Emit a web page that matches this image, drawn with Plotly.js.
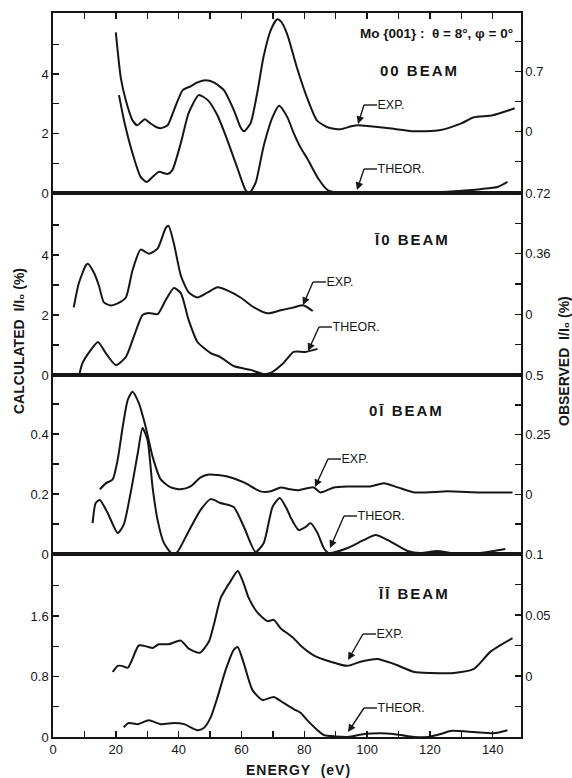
<!DOCTYPE html>
<html>
<head>
<meta charset="utf-8">
<script src="https://cdn.plot.ly/plotly-3.0.1.min.js"></script>
<style>
html,body{margin:0;padding:0;background:#fff;}
#chart{width:572px;height:778px;}
</style>
</head>
<body>
<div id="chart"></div>
<script>
// ---------- DATA ----------
// Energy (eV); EXP in observed I/I0 (%), THEOR in calculated I/I0 (%)
// 00 beam
const exp00E = [20, 21.6, 23.2, 25.3, 26.8, 28, 29.2, 31, 33, 34.3, 36.5, 38.5, 41.3, 43.8, 46, 48.6, 51.2, 54.4, 57.6, 59.7, 60.8, 62.9, 65, 67, 69.3, 71.3, 72.5, 74.5, 77.6, 80.8, 84, 87.4, 91.5, 95, 97.3, 101, 107, 115, 123, 130, 134, 140, 147];
const exp00I = [1.155, 0.62, 0.36, 0.13, 0.07, 0.105, 0.14, 0.093, 0.047, 0.035, 0.07, 0.245, 0.48, 0.525, 0.57, 0.595, 0.57, 0.48, 0.245, 0.047, 0.0, 0.093, 0.443, 0.863, 1.178, 1.305, 1.285, 1.14, 0.75, 0.40, 0.128, 0.047, 0.023, 0.058, 0.07, 0.058, 0.035, 0, 0.012, 0.093, 0.163, 0.187, 0.268];
const th00E = [21, 22.8, 25.3, 27.9, 29.8, 31.7, 33.7, 36.5, 38, 40.7, 43.2, 46.4, 49.2, 52.3, 55.5, 58.7, 61.3, 62.5, 64.5, 67, 69.9, 72, 74.6, 76.6, 78.7, 81, 84.6, 87.4, 89.4, 95, 105, 115, 125.6, 131, 136, 141.5, 144.7];
const th00I = [3.29, 2.35, 1.34, 0.54, 0.37, 0.54, 0.71, 0.64, 0.77, 1.68, 2.69, 3.29, 3.13, 2.62, 1.78, 0.84, 0.1, 0, 0.34, 1.55, 2.55, 2.93, 2.55, 2.02, 1.55, 1.15, 0.46, 0.1, 0.03, 0.02, 0.03, 0.02, 0.04, 0.08, 0.13, 0.2, 0.37];
// 1̄0 beam
const exp10E = [6.6, 8.2, 10.4, 11.1, 13, 14.6, 16.2, 18.4, 20.6, 23.2, 25.3, 27.9, 30.5, 33.3, 35.9, 36.8, 38.5, 40.7, 43.2, 46, 49.2, 52.4, 55.5, 59.7, 64, 68.3, 72.5, 76.6, 79.8, 82.7];
const exp10I = [0.041, 0.183, 0.289, 0.30, 0.248, 0.171, 0.071, 0.053, 0.065, 0.1, 0.26, 0.384, 0.36, 0.39, 0.513, 0.525, 0.419, 0.23, 0.13, 0.1, 0.13, 0.16, 0.142, 0.1, 0.041, 0.006, 0.024, 0.041, 0.053, 0.02];
const th10E = [8.5, 9.4, 12, 14.3, 16.8, 20, 23.2, 25.7, 28.5, 30.5, 33.3, 35.9, 38.5, 40.7, 43.2, 46, 50.2, 53.3, 57.5, 62.9, 67, 69.3, 73.4, 76.6, 80.4, 84.2];
const th10I = [0.07, 0.4, 0.83, 1.1, 0.73, 0.33, 0.6, 1.27, 2.0, 2.07, 2.03, 2.5, 2.9, 2.73, 1.83, 1.1, 0.73, 0.6, 0.3, 0.17, 0.03, 0.07, 0.4, 0.77, 0.77, 0.87];
// 01̄ beam
const exp01E = [14.9, 16.8, 19, 20.6, 22.2, 23.8, 25.3, 27.3, 29.5, 31.7, 34.3, 37.5, 40.7, 43.8, 47, 49.6, 55.5, 60.8, 66.1, 69.3, 72.5, 75.6, 77.9, 83, 85.2, 89.4, 93.8, 101, 105.3, 109.8, 115, 125.6, 136, 146.3];
const exp01I = [0.021, 0.046, 0.0625, 0.146, 0.283, 0.396, 0.43, 0.383, 0.283, 0.158, 0.0625, 0.029, 0.021, 0.033, 0.071, 0.083, 0.075, 0.05, 0.0125, 0.0125, 0.029, 0.021, 0.017, 0.029, 0.008, 0.029, 0.033, 0.033, 0.046, 0.029, 0.008, 0.0125, 0.008, 0.008];
const th01E = [12.6, 13.6, 14.9, 17.4, 20.6, 22.5, 24.7, 27, 28.5, 30.1, 31.7, 33.3, 35.3, 38, 39.6, 42.9, 47, 50.2, 53.3, 57.5, 60.8, 64.5, 67.1, 69.9, 72.2, 74.6, 75.6, 78.2, 80.4, 82, 84.2, 86.2, 87.8, 93.8, 99, 102.7, 106.5, 112.9, 117, 122.4, 127.6, 136, 140.3, 144];
const th01I = [0.103, 0.17, 0.18, 0.137, 0.07, 0.097, 0.203, 0.337, 0.42, 0.38, 0.223, 0.113, 0.037, 0, 0.007, 0.07, 0.147, 0.183, 0.17, 0.157, 0.09, 0.007, 0.037, 0.157, 0.187, 0.147, 0.123, 0.08, 0.09, 0.103, 0.07, 0.02, 0.003, 0.02, 0.047, 0.063, 0.047, 0.01, 0.003, 0.01, 0.003, 0.003, 0.01, 0.017];
// 1̄1̄ beam
const exp11E = [19, 20.6, 21.9, 23.8, 25.3, 27.3, 30.1, 31.7, 33.7, 36.8, 40.7, 43.2, 46.7, 49.6, 51.2, 53.4, 56.6, 58.8, 60.4, 62.3, 65.1, 68.3, 70.3, 72.5, 74.6, 76.6, 78.8, 83, 88.4, 93.8, 97.9, 103.3, 108.4, 115, 120.3, 127.7, 134, 139.3, 146.3];
const exp11I = [0.0033, 0.0083, 0.0083, 0.0067, 0.014, 0.025, 0.024, 0.023, 0.026, 0.026, 0.029, 0.0225, 0.019, 0.028, 0.042, 0.064, 0.078, 0.086, 0.078, 0.064, 0.052, 0.045, 0.046, 0.039, 0.035, 0.031, 0.025, 0.017, 0.0117, 0.0083, 0.0117, 0.014, 0.01, 0.0033, 0.0025, 0.0025, 0.0058, 0.02, 0.031];
const th11E = [22.5, 24.1, 27, 30.5, 34.3, 38.5, 41.7, 46, 48, 50.2, 52.4, 55, 57.5, 58.8, 60.7, 63.5, 66.7, 70.3, 73.4, 76.6, 78.8, 81, 84.2, 86.2, 93.8, 99, 104.4, 108.4, 115, 119.3, 123.4, 126.6, 134, 140.3, 144.7];
const th11I = [0.13, 0.185, 0.17, 0.22, 0.17, 0.185, 0.17, 0.09, 0.12, 0.26, 0.53, 0.89, 1.15, 1.19, 0.98, 0.62, 0.49, 0.53, 0.45, 0.37, 0.32, 0.22, 0.09, 0.026, 0, 0.04, 0.05, 0.04, 0, 0, 0.04, 0.08, 0.066, 0.05, 0.09];

// Tick values (labelled) and minor tick values
const energyTicks = [0, 20, 40, 60, 80, 100, 120, 140];
const energyMinor = [10, 30, 50, 70, 90, 110, 130];
const calc00Ticks = [0, 2, 4];        const calc00Minor = [1, 3, 5];
const obs00Ticks = [0, 0.7];          const obs00Minor = [-0.35, 0.35, 1.05];
const calc10Ticks = [0, 2, 4];        const calc10Minor = [1, 3, 5];
const obs10Ticks = [0, 0.36, 0.72];   const obs10Minor = [-0.18, 0.18, 0.54];
const calc01Ticks = [0, 0.2, 0.4];    const calc01Minor = [0.1, 0.3, 0.5];
const obs01Ticks = [0, 0.25, 0.5];    const obs01Minor = [-0.125, 0.125, 0.375];
const calc11Ticks = [0, 0.8, 1.6];    const calc11Minor = [0.4, 1.2, 2.0];
const obs11Ticks = [0, 0.05, 0.1];    const obs11Minor = [-0.025, 0.025, 0.075];

const beamTitles = ['00 BEAM', '\u012A0 BEAM', '0\u012A BEAM', '\u012A\u012A BEAM'];

// ---------- STYLE ----------
const INK = '#161616';
const FONT = 'Liberation Sans, Arial, sans-serif';
const W = 572, H = 778, ML = 53, MR = 51, MT = 13, MB = 41;
const PW = W - ML - MR, PH = H - MT - MB;
const px = v => (v - ML) / PW;
const py = v => (H - MB - v) / PH;

const lineStyle = {color: INK, width: 2, shape: 'spline', smoothing: 0.6};
function tr(x, y, xa, ya) {
  return {x: x, y: y, xaxis: xa, yaxis: ya, type: 'scatter', mode: 'lines', line: lineStyle, hoverinfo: 'skip', showlegend: false};
}
const traces = [
  tr(exp00E, exp00I, 'x', 'y2'), tr(th00E, th00I, 'x', 'y'),
  tr(exp10E, exp10I, 'x2', 'y4'), tr(th10E, th10I, 'x2', 'y3'),
  tr(exp01E, exp01I, 'x3', 'y6'), tr(th01E, th01I, 'x3', 'y5'),
  tr(exp11E, exp11I, 'x4', 'y8'), tr(th11E, th11I, 'x4', 'y7')
];

const domains = [[py(193), 1], [py(375), py(193)], [py(554), py(375)], [0, py(554)]];
const tickFont = {family: FONT, size: 13, color: INK};
const minorStyle = vals => ({tickmode: 'array', tickvals: vals, ticks: 'inside', ticklen: 6, tickwidth: 1.4, tickcolor: INK, showgrid: false});

function xAx(anchor, opts) {
  return Object.assign({
    anchor: anchor, range: [0, 149], showgrid: false, zeroline: false,
    showline: true, linecolor: INK, linewidth: 1.7, mirror: true,
    ticks: '', showticklabels: false, tickfont: tickFont, fixedrange: true
  }, opts || {});
}
function yAx(range, tv, minor, anchor, extra) {
  return Object.assign({anchor: anchor, range: range, tickmode: 'array', tickvals: tv,
    ticks: 'inside', ticklen: 6, tickwidth: 1.4, tickcolor: INK, minor: minorStyle(minor),
    showline: true, linecolor: INK, linewidth: 1.7,
    showgrid: false, zeroline: false, tickfont: tickFont, fixedrange: true}, extra);
}

const layout = {
  width: W, height: H,
  margin: {l: ML, r: MR, t: MT, b: MB, pad: 0},
  paper_bgcolor: '#ffffff', plot_bgcolor: '#ffffff',
  font: {family: FONT, color: INK},
  showlegend: false,
  xaxis: xAx('y', {side: 'top', ticks: 'inside', ticklen: 6, tickwidth: 1.4, tickcolor: INK,
    tickmode: 'array', tickvals: energyTicks, minor: minorStyle(energyMinor)}),
  xaxis2: xAx('y3', {matches: 'x'}),
  xaxis3: xAx('y5', {matches: 'x'}),
  xaxis4: xAx('y7', {matches: 'x', side: 'bottom', ticks: 'inside', ticklen: 6, tickwidth: 1.4, tickcolor: INK,
    tickmode: 'array', tickvals: energyTicks, minor: minorStyle(energyMinor), showticklabels: true}),
  yaxis:  yAx([0, 6.05], calc00Ticks, calc00Minor, 'x', {domain: domains[0]}),
  yaxis2: yAx([-0.72, 1.38], obs00Ticks, obs00Minor, 'x', {overlaying: 'y', side: 'right'}),
  yaxis3: yAx([0, 6.07], calc10Ticks, calc10Minor, 'x2', {domain: domains[1]}),
  yaxis4: yAx([-0.36, 0.72], obs10Ticks, obs10Minor, 'x2', {overlaying: 'y3', side: 'right'}),
  yaxis5: yAx([0, 0.597], calc01Ticks, calc01Minor, 'x3', {domain: domains[2]}),
  yaxis6: yAx([-0.25, 0.5], obs01Ticks, obs01Minor, 'x3', {overlaying: 'y5', side: 'right'}),
  yaxis7: yAx([0, 2.42], calc11Ticks, calc11Minor, 'x4', {domain: domains[3]}),
  yaxis8: yAx([-0.05, 0.1], obs11Ticks, obs11Minor, 'x4', {overlaying: 'y7', side: 'right'}),
  annotations: [],
  shapes: []
};

const A = layout.annotations, S = layout.shapes;
function txt(text, x, y, size, opts) {
  A.push(Object.assign({text: text, xref: 'paper', yref: 'paper', x: px(x), y: py(y), showarrow: false,
    font: {family: FONT, size: size, color: INK}, xanchor: 'center', yanchor: 'middle'}, opts || {}));
}
// pointer label: elbow (cx,cy) -> short horizontal stroke -> text; arrow from elbow to curve (ex,ey)
function pointer(label, cx, cy, ex, ey) {
  A.push({text: '\u2003' + label, xref: 'paper', yref: 'paper', x: px(ex), y: py(ey), axref: 'pixel', ayref: 'pixel',
    ax: cx - ex, ay: cy - ey, xanchor: 'left', yanchor: 'middle', showarrow: true, arrowhead: 2, arrowsize: 1.1,
    arrowwidth: 1.4, arrowcolor: INK, standoff: 0, borderpad: 0,
    font: {family: FONT, size: 12.5, color: INK}});
  S.push({type: 'line', xref: 'paper', yref: 'paper', x0: px(cx), y0: py(cy), x1: px(cx + 13), y1: py(cy),
    line: {color: INK, width: 1.4}});
}

const sp = s => '<span style="letter-spacing:2px">' + s + '</span>';
txt('<b>Mo {001} :  θ = 8°, φ = 0°</b>', 515, 33, 13.5, {xanchor: 'right'});
txt('<b>' + sp(beamTitles[0]) + '</b>', 419, 70, 15);
txt('<b>' + sp(beamTitles[1]) + '</b>', 412, 239, 15);
txt('<b>' + sp(beamTitles[2]) + '</b>', 406, 410, 15);
txt('<b>' + sp(beamTitles[3]) + '</b>', 414, 593, 15);

pointer('EXP.', 364, 105, 358, 124);
pointer('THEOR.', 364, 169, 357, 190);
pointer('EXP.', 313, 282, 303, 305);
pointer('THEOR.', 319, 327, 308, 351);
pointer('EXP.', 328, 459, 315, 487);
pointer('THEOR.', 344, 516, 330, 548);
pointer('EXP.', 363, 634, 348, 660);
pointer('THEOR.', 364, 708, 348, 732);

txt('<b>CALCULATED  I/I\u2080 (%)</b>', 19, 341, 14, {textangle: -90});
txt('<b>OBSERVED  I/I\u2080 (%)</b>', 564, 361, 14, {textangle: -90});
txt('<b><span style="letter-spacing:1px">ENERGY  (eV)</span></b>', 298, 770, 14);

Plotly.newPlot('chart', traces, layout, {staticPlot: true, displayModeBar: false});
</script>
</body>
</html>
